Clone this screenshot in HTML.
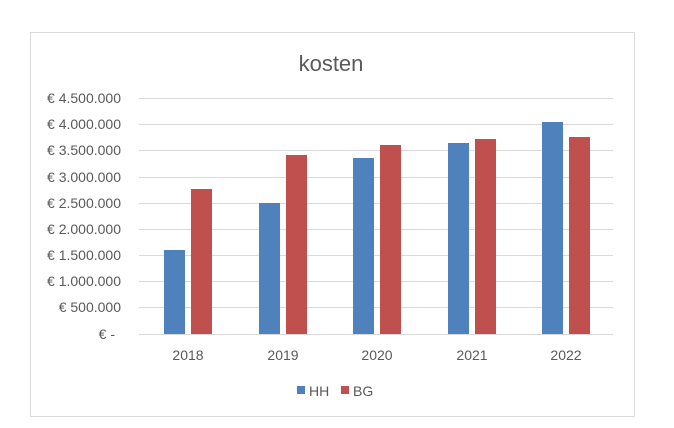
<!DOCTYPE html><html><head><style>body{margin:0;background:#fff}</style></head><body>
<svg width="674" height="423" xmlns="http://www.w3.org/2000/svg" font-family="Liberation Sans, sans-serif" fill="#595959">
<rect x="30.5" y="32.5" width="604" height="384" fill="#fff" stroke="#d9d9d9"/>
<text x="331" y="71" font-size="22" text-anchor="middle">kosten</text>
<g stroke="#d9d9d9" stroke-width="1">
<line x1="139" x2="613" y1="98.5" y2="98.5"/><line x1="139" x2="613" y1="124.5" y2="124.5"/><line x1="139" x2="613" y1="150.5" y2="150.5"/><line x1="139" x2="613" y1="177.5" y2="177.5"/><line x1="139" x2="613" y1="203.5" y2="203.5"/><line x1="139" x2="613" y1="229.5" y2="229.5"/><line x1="139" x2="613" y1="255.5" y2="255.5"/><line x1="139" x2="613" y1="281.5" y2="281.5"/><line x1="139" x2="613" y1="307.5" y2="307.5"/><line x1="139" x2="613" y1="334.5" y2="334.5"/>
</g>
<g font-size="14" text-anchor="end">
<text x="121" y="103">€ 4.500.000</text><text x="121" y="129">€ 4.000.000</text><text x="121" y="155">€ 3.500.000</text><text x="121" y="182">€ 3.000.000</text><text x="121" y="208">€ 2.500.000</text><text x="121" y="234">€ 2.000.000</text><text x="121" y="260">€ 1.500.000</text><text x="121" y="286">€ 1.000.000</text><text x="121" y="312">€ 500.000</text><text x="115" y="339">€ -</text>
</g>
<g fill="#4f81bd">
<rect x="164" y="250" width="21" height="84"/><rect x="259" y="203" width="21" height="131"/><rect x="353" y="158" width="21" height="176"/><rect x="448" y="143" width="21" height="191"/><rect x="542" y="122" width="21" height="212"/>
</g>
<g fill="#c0504d">
<rect x="191" y="189" width="21" height="145"/><rect x="286" y="155" width="21" height="179"/><rect x="380" y="145" width="21" height="189"/><rect x="475" y="139" width="21" height="195"/><rect x="569" y="137" width="21" height="197"/>
</g>
<g font-size="14" text-anchor="middle">
<text x="188" y="360">2018</text><text x="283" y="360">2019</text><text x="377" y="360">2020</text><text x="472" y="360">2021</text><text x="566" y="360">2022</text>
</g>
<rect x="297" y="386" width="8" height="8" fill="#4f81bd"/><text x="309" y="396" font-size="14">HH</text>
<rect x="341" y="386" width="8" height="8" fill="#c0504d"/><text x="353" y="396" font-size="14">BG</text>
</svg></body></html>
